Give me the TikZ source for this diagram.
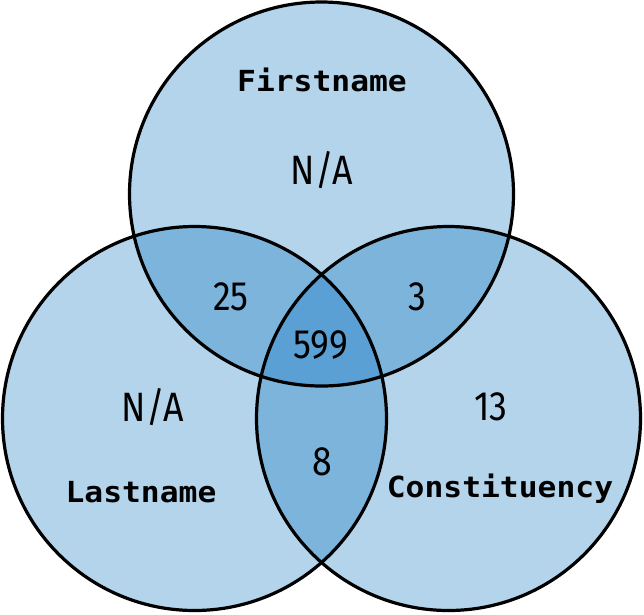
\documentclass[tikz,border=0pt]{standalone}
\usepackage{fontspec}
\newfontfamily\labelfont[FakeStretch=1.08]{DejaVu Sans Mono}
\newfontfamily\numfont[FakeStretch=0.87]{Fira Sans}
\definecolor{cone}{RGB}{179,212,234}
\definecolor{ctwo}{RGB}{125,180,220}
\definecolor{cthree}{RGB}{90,160,212}
\begin{document}
\begin{tikzpicture}[x=1pt,y=-1pt,
  setlabel/.style={font=\labelfont\bfseries\fontsize{29}{31}\selectfont},
  numlabel/.style={font=\numfont\fontsize{41}{43}\selectfont},
  ring/.style={draw=black,line width=3.2pt}]
\useasboundingbox (0,0) rectangle (644,614);
\coordinate (T) at (321.5,194);
\coordinate (L) at (194.5,418.5);
\coordinate (R) at (448.5,418.5);
\def\rad{192}
\fill[cone] (T) circle (\rad) (L) circle (\rad) (R) circle (\rad);
\begin{scope}\clip (T) circle (\rad); \fill[ctwo] (L) circle (\rad); \fill[ctwo] (R) circle (\rad); \end{scope}
\begin{scope}\clip (L) circle (\rad); \fill[ctwo] (R) circle (\rad); \end{scope}
\begin{scope}\clip (T) circle (\rad); \clip (L) circle (\rad); \fill[cthree] (R) circle (\rad); \end{scope}
\draw[ring] (T) circle (\rad);
\draw[ring] (L) circle (\rad);
\draw[ring] (R) circle (\rad);
\node[setlabel] (first) at (322,80) {Firstname};
\node[setlabel] (last) at (141,492) {Lastname};
\node[setlabel] (const) at (500,489) {Constituency};
\node[numlabel] (natop) at (322,170) {N/A};
\node[numlabel] (naleft) at (153,407) {N/A};
\node[numlabel] (n25) at (231,297) {25};
\node[numlabel] (n3) at (417,297) {3};
\node[numlabel] (n599) at (321,345) {599};
\node[numlabel] (n13) at (491,407) {13};
\node[numlabel] (n8) at (322,462) {8};
\end{tikzpicture}
\end{document}
